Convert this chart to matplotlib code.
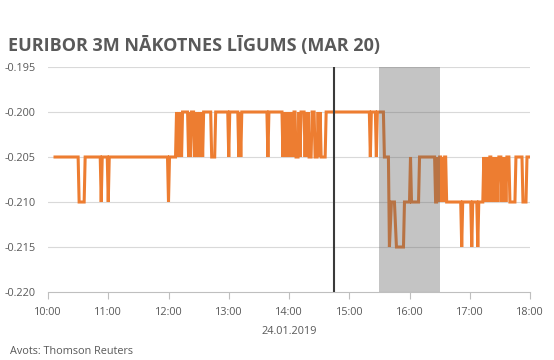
import matplotlib
matplotlib.use("Agg")
import matplotlib.pyplot as plt

# minutes after 10:00 and futures price
minutes = [
    7, 30, 31, 36, 37, 52, 53, 54, 59, 60, 61, 119, 120, 121, 127,
    128, 129, 130, 131, 132, 133, 134, 139, 140, 141, 142, 143, 145,
    146, 147, 148, 149, 150, 151, 152, 153, 154, 155, 162, 163, 166,
    167, 179, 180, 181, 189, 190, 191, 192, 193, 218, 219, 220, 233,
    234, 235, 236, 237, 238, 239, 240, 241, 242, 243, 244, 245, 246, 247, 249,
    250, 251, 252, 255, 256, 257, 258, 259, 260, 262, 263, 265, 266,
    268, 269, 270, 271, 272, 276, 277, 320, 321, 322, 326, 327, 328,
    334, 335, 339, 340, 342, 345, 347, 354, 355, 360, 361, 362, 369,
    370, 385, 386, 387, 388, 389, 390, 391, 392, 393, 394, 395, 396,
    397, 411, 412, 413, 421, 422, 423, 427, 428, 429, 433, 434, 435,
    436, 437, 438, 439, 440, 441, 442, 443, 444, 445, 446, 447, 448,
    449, 451, 452, 453, 454, 455, 456, 457, 459, 460, 465, 466, 472,
    473, 476, 477, 480,
]
prices = [
    -0.205, -0.205, -0.210, -0.210, -0.205, -0.205, -0.210, -0.205, -0.205, -0.210, -0.205, -0.205, -0.210, -0.205, -0.205,
    -0.200, -0.205, -0.200, -0.205, -0.200, -0.205, -0.200, -0.200, -0.205, -0.200, -0.205, -0.200, -0.200,
    -0.205, -0.200, -0.205, -0.200, -0.205, -0.200, -0.205, -0.200, -0.205, -0.200, -0.200, -0.205, -0.205,
    -0.200, -0.200, -0.205, -0.200, -0.200, -0.205, -0.200, -0.205, -0.200, -0.200, -0.205, -0.200, -0.200,
    -0.205, -0.200, -0.205, -0.200, -0.205, -0.200, -0.205, -0.200, -0.205, -0.200, -0.205, -0.200, -0.200, -0.205, -0.205,
    -0.200, -0.205, -0.200, -0.200, -0.205, -0.200, -0.205, -0.200, -0.205, -0.205, -0.200, -0.200, -0.205,
    -0.205, -0.200, -0.205, -0.200, -0.205, -0.205, -0.200, -0.200, -0.205, -0.200, -0.200, -0.205, -0.200,
    -0.200, -0.205, -0.205, -0.215, -0.210, -0.210, -0.215, -0.215, -0.210, -0.210, -0.205, -0.210, -0.210,
    -0.205, -0.205, -0.210, -0.210, -0.205, -0.210, -0.205, -0.205, -0.210, -0.205, -0.210, -0.205, -0.205,
    -0.210, -0.210, -0.215, -0.210, -0.210, -0.215, -0.210, -0.210, -0.215, -0.210, -0.210, -0.205, -0.210,
    -0.205, -0.210, -0.205, -0.210, -0.205, -0.205, -0.210, -0.205, -0.210, -0.205, -0.210, -0.205, -0.210,
    -0.205, -0.205, -0.210, -0.205, -0.210, -0.205, -0.210, -0.205, -0.205, -0.210, -0.210, -0.205, -0.205,
    -0.210, -0.210, -0.205, -0.205,
]

hour_ticks = [10, 11, 12, 13, 14, 15, 16, 17, 18]
hour_labels = ["10:00", "11:00", "12:00", "13:00", "14:00", "15:00", "16:00", "17:00", "18:00"]
y_ticks = [-0.220, -0.215, -0.210, -0.205, -0.200, -0.195]
event_time = 14.75          # 14:45
window = (15.5, 16.5)       # 15:30 - 16:30

plt.rcParams["font.family"] = ["Open Sans", "DejaVu Sans"]
text_grey = "#595959"

fig = plt.figure(figsize=(5.54, 3.6), dpi=100)
ax = fig.add_axes([48 / 554, 1 - 292 / 360, (530 - 48) / 554, (292 - 67) / 360])

hours = [10 + m / 60 for m in minutes]
ax.plot(hours, prices, color="#ED7D31", lw=2.2, zorder=2, solid_joinstyle="miter")
ax.axvspan(window[0], window[1], color="#646464", alpha=0.38, lw=0, zorder=3)
ax.axvline(event_time, color="#3a3a3a", lw=1.5, zorder=4)

for y in y_ticks[1:]:
    ax.axhline(y, color="#D9D9D9", lw=0.8, zorder=0)

ax.set_xlim(10, 18)
ax.set_ylim(-0.220, -0.195)
ax.set_xticks(hour_ticks)
ax.set_xticklabels(hour_labels)
ax.set_yticks(y_ticks)
ax.set_yticklabels([f"{v:.3f}" for v in y_ticks])

for s in ["top", "right", "left"]:
    ax.spines[s].set_visible(False)
ax.spines["bottom"].set_color("#BFBFBF")
ax.tick_params(axis="x", length=5, color="#BFBFBF", labelsize=7.8, labelcolor=text_grey, pad=6)
ax.tick_params(axis="y", length=0, labelsize=7.8, labelcolor=text_grey, pad=9)

fig.text(8 / 554, 1 - 45 / 360, "EURIBOR 3M NĀKOTNES LĪGUMS (MAR 20)",
         fontsize=13, fontweight="bold", color=text_grey, va="center", ha="left")
fig.text(289 / 554, 1 - 332 / 360, "24.01.2019", fontsize=7.8, color=text_grey,
         ha="center", va="center")
fig.text(10 / 554, 1 - 352 / 360, "Avots: Thomson Reuters", fontsize=7.8,
         color=text_grey, ha="left", va="center")

fig.savefig("out.png", dpi=100)
